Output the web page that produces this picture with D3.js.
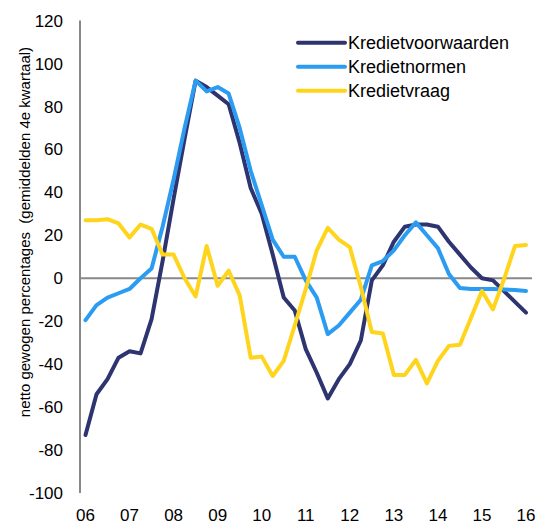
<!DOCTYPE html>
<html>
<head>
<meta charset="utf-8">
<script src="https://cdn.jsdelivr.net/npm/d3@7"></script>
<style>
	body { margin: 0; background: #fff; }
	svg { font-family: Arial, "Liberation Sans", sans-serif; }
	.tick-label { font-size: 17px; fill: #000; }
	.legend-label { font-size: 18px; fill: #000; }
	.y-title { font-size: 15px; fill: #000; }
</style>
</head>
<body>
<svg id="chart" width="544" height="524"></svg>
<script>
// years on the axis, data is quarterly from 06Q1 to 16Q1
var years = ['06','07','08','09','10','11','12','13','14','15','16'];

var quarters = [];
years.forEach(function(yr, i){
	var n = i === years.length - 1 ? 1 : 4;
	for(var q = 1; q <= n; q++){ quarters.push(yr + 'Q' + q); }
});

var yTicks = [120, 100, 80, 60, 40, 20, 0, -20, -40, -60, -80, -100];

var voorwaarden = [-73, -54, -47, -37, -34, -35, -19, 8, 37, 65,
	92, 89, 85, 81, 63, 42, 30, 11, -9, -15,
	-33, -44, -56, -47, -40, -29, -1, 6, 17, 24,
	25, 25, 24, 17, 11, 5, 0, -1, -6, -11, -16];

var normen = [-19.5, -12.5, -9, -7, -5, 0, 4.5, 24, 46, 70,
	92, 87, 89, 86, 70, 50, 34, 18, 10, 10,
	-1, -9, -26, -22, -16, -10, 6, 8, 13, 20,
	26, 20, 14, 2, -4.5, -5, -5, -5, -5.3, -5.5, -6];

var vraag = [27, 27, 27.5, 25.5, 19, 25, 23, 11, 11, 0,
	-8.5, 15, -3.5, 3.5, -8, -37, -36.5, -45.5, -38.5, -22,
	-5, 13, 23.5, 18, 14.5, -4, -25, -25.7, -45, -45,
	-38, -49, -38.5, -31.5, -31, -18.5, -6, -14.5, -0.5, 15, 15.5];

var series = [
	{name : 'Kredietvoorwaarden', values : voorwaarden, color : '#2d3470'},
	{name : 'Kredietnormen', values : normen, color : '#2b9cf2'},
	{name : 'Kredietvraag', values : vraag, color : '#ffd41c'}
];

var svg = d3.select('#chart');

var x = d3.scalePoint()
	.domain(quarters)
	.range([85.5, 526]);

var y = d3.scaleLinear()
	.domain([-100, 120])
	.range([493, 20.5]);

// axes
svg.append('line')
	.attr('x1', 80).attr('x2', 80)
	.attr('y1', y(120)).attr('y2', y(-100))
	.attr('stroke', '#888').attr('stroke-width', 2);

svg.append('line')
	.attr('x1', 80).attr('x2', 532)
	.attr('y1', y(0)).attr('y2', y(0))
	.attr('stroke', '#888').attr('stroke-width', 2);

svg.append('g')
	.selectAll('text')
	.data(yTicks)
	.enter()
	.append('text')
	.attr('class', 'tick-label')
	.attr('x', 63)
	.attr('y', (d)=>y(d))
	.attr('dy', '0.36em')
	.attr('text-anchor', 'end')
	.text((d)=>d);

svg.append('g')
	.selectAll('text')
	.data(years)
	.enter()
	.append('text')
	.attr('class', 'tick-label')
	.attr('x', (d)=>x(d + 'Q1'))
	.attr('y', 521)
	.attr('text-anchor', 'middle')
	.text((d)=>d);

svg.append('text')
	.attr('class', 'y-title')
	.attr('transform', 'translate(30,232) rotate(-90)')
	.attr('text-anchor', 'middle')
	.attr('xml:space', 'preserve')
	.style('white-space', 'pre')
	.text('netto gewogen percentages  (gemiddelden 4e kwartaal)');

// lines
var line = d3.line()
	.x(function(d, i){ return x(quarters[i]); })
	.y(function(d){ return y(d); });

svg.append('g')
	.selectAll('path')
	.data(series)
	.enter()
	.append('path')
	.attr('d', (d)=>line(d.values))
	.attr('fill', 'none')
	.attr('stroke', (d)=>d.color)
	.attr('stroke-width', 4)
	.attr('stroke-linejoin', 'round')
	.attr('stroke-linecap', 'round');

// legend
var legend = svg.append('g')
	.selectAll('g')
	.data(series)
	.enter()
	.append('g')
	.attr('transform', (d, i)=>`translate(298,${42.7 + i * 24})`);

legend.append('line')
	.attr('x1', 0).attr('x2', 47)
	.attr('stroke', (d)=>d.color)
	.attr('stroke-width', 4)
	.attr('stroke-linecap', 'round');

legend.append('text')
	.attr('class', 'legend-label')
	.attr('x', 50)
	.attr('dy', '0.36em')
	.text((d)=>d.name);
</script>
</body>
</html>
